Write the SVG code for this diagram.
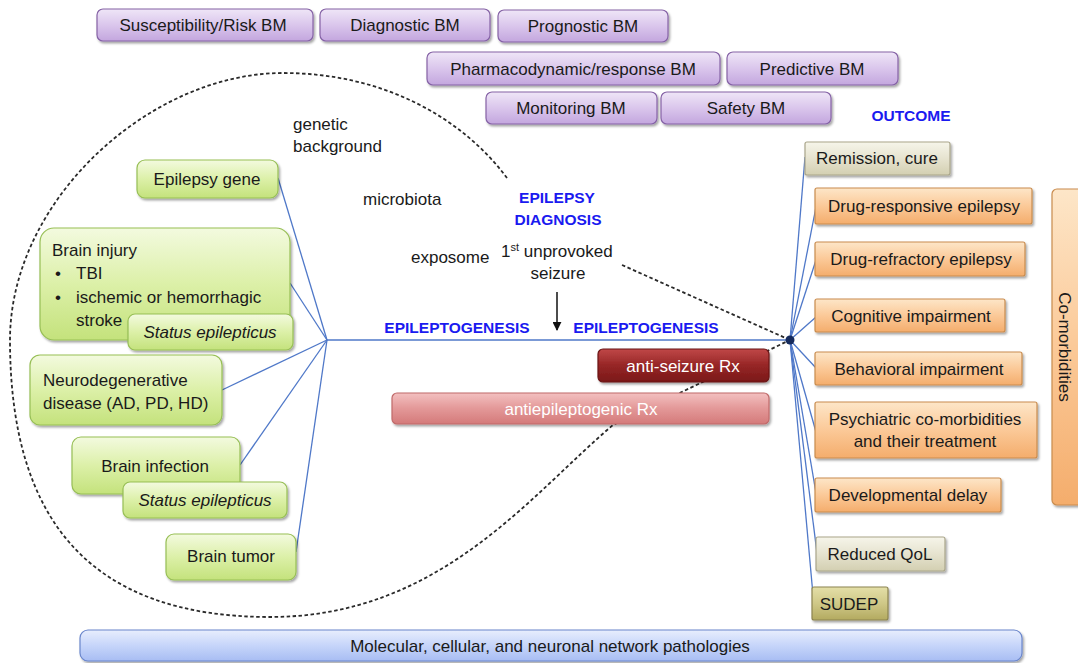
<svg xmlns="http://www.w3.org/2000/svg" width="1078" height="663" viewBox="0 0 1078 663">
<defs>
<linearGradient id="gPurple" x1="0" y1="0" x2="0" y2="1"><stop offset="0" stop-color="#efe6f7"/><stop offset="0.5" stop-color="#dac6ec"/><stop offset="1" stop-color="#c3a6de"/></linearGradient>
<linearGradient id="gGreen" x1="0" y1="0" x2="0" y2="1"><stop offset="0" stop-color="#f3fadf"/><stop offset="0.5" stop-color="#dcf0a8"/><stop offset="1" stop-color="#c4e27c"/></linearGradient>
<linearGradient id="gOrange" x1="0" y1="0" x2="0" y2="1"><stop offset="0" stop-color="#fde6c8"/><stop offset="0.5" stop-color="#fbc998"/><stop offset="1" stop-color="#f4ad6c"/></linearGradient>
<linearGradient id="gBeige" x1="0" y1="0" x2="0" y2="1"><stop offset="0" stop-color="#f6f5ea"/><stop offset="0.5" stop-color="#e6e3cf"/><stop offset="1" stop-color="#d3cfb1"/></linearGradient>
<linearGradient id="gKhaki" x1="0" y1="0" x2="0" y2="1"><stop offset="0" stop-color="#e4dfa8"/><stop offset="0.5" stop-color="#cfc887"/><stop offset="1" stop-color="#b3aa60"/></linearGradient>
<linearGradient id="gDarkRed" x1="0" y1="0" x2="0" y2="1"><stop offset="0" stop-color="#c04848"/><stop offset="0.5" stop-color="#962626"/><stop offset="1" stop-color="#7a1818"/></linearGradient>
<linearGradient id="gPink" x1="0" y1="0" x2="0" y2="1"><stop offset="0" stop-color="#f3c0c0"/><stop offset="0.5" stop-color="#e39898"/><stop offset="1" stop-color="#d47a7a"/></linearGradient>
<linearGradient id="gBlue" x1="0" y1="0" x2="0" y2="1"><stop offset="0" stop-color="#e8eefd"/><stop offset="0.5" stop-color="#c6d5fa"/><stop offset="1" stop-color="#a8bdf3"/></linearGradient>
<filter id="sh" x="-10%" y="-20%" width="125%" height="150%"><feDropShadow dx="1.5" dy="2" stdDeviation="1.3" flood-color="#000" flood-opacity="0.35"/></filter>
<marker id="arr" viewBox="0 0 10 10" refX="9" refY="5" markerWidth="6" markerHeight="6" orient="auto"><path d="M0,0 L10,5 L0,10 z" fill="#111"/></marker>
</defs>
<style>
text{font-family:"Liberation Sans",Arial,sans-serif;font-size:17px;fill:#1a1a1a}
.c{text-anchor:middle}
.i{font-style:italic}
.b{font-weight:bold;fill:#1a1af0;font-size:15.5px}
.w{fill:#ffffff}
.purple{fill:url(#gPurple);stroke:#8562a6;stroke-width:1.2;filter:url(#sh)}
.green{fill:url(#gGreen);stroke:#97bf55;stroke-width:1.2;filter:url(#sh)}
.orange{fill:url(#gOrange);stroke:#c98c4e;stroke-width:1.2;filter:url(#sh)}
.beige{fill:url(#gBeige);stroke:#a9a58a;stroke-width:1.2;filter:url(#sh)}
.khaki{fill:url(#gKhaki);stroke:#8c8450;stroke-width:1.2;filter:url(#sh)}
.dred{fill:url(#gDarkRed);stroke:#6a1414;stroke-width:1.2;filter:url(#sh)}
.pink{fill:url(#gPink);stroke:#c06a6a;stroke-width:1.2;filter:url(#sh)}
.blue{fill:url(#gBlue);stroke:#6a86cc;stroke-width:1.2;filter:url(#sh)}
.ln{stroke:#4f78c8;stroke-width:1.3;fill:none}
.dash{stroke:#2a2a2a;stroke-width:1.8;stroke-dasharray:3.5 2.5;fill:none}
</style>

<g id="connectors">
<path class="dash" d="M507,178 C460,115 380,73 283,73 C150,73 10,200 10,340 C10,520 90,617 270,617 C440,617 530,495 613,425 L790,340 M622,265 L790,340"/>
<g class="ln">
<line x1="327" y1="340" x2="790" y2="340"/>
<line x1="327" y1="340" x2="278" y2="178"/>
<line x1="327" y1="340" x2="290" y2="283"/>
<line x1="327" y1="340" x2="222" y2="390"/>
<line x1="327" y1="340" x2="240" y2="465"/>
<line x1="327" y1="340" x2="296" y2="552"/>
<line x1="790" y1="340" x2="805" y2="157"/>
<line x1="790" y1="340" x2="816" y2="207"/>
<line x1="790" y1="340" x2="816" y2="260"/>
<line x1="790" y1="340" x2="816" y2="317"/>
<line x1="790" y1="340" x2="816" y2="368"/>
<line x1="790" y1="340" x2="816" y2="432"/>
<line x1="790" y1="340" x2="816" y2="493"/>
<line x1="790" y1="340" x2="817" y2="553"/>
<line x1="790" y1="340" x2="813" y2="595"/>
</g>
<line x1="557" y1="292" x2="557" y2="330" stroke="#111" stroke-width="1.5" marker-end="url(#arr)"/>
<circle cx="790" cy="340" r="4.5" fill="#152a5c"/>
</g>

<g id="bm-susceptibility"><rect class="purple" x="97" y="9" width="216" height="32" rx="6"/><text class="c" x="203" y="31">Susceptibility/Risk BM</text></g>
<g id="bm-diagnostic"><rect class="purple" x="320" y="9" width="170" height="32" rx="6"/><text class="c" x="405" y="31">Diagnostic BM</text></g>
<g id="bm-prognostic"><rect class="purple" x="498" y="10" width="170" height="32" rx="6"/><text class="c" x="583" y="32">Prognostic BM</text></g>
<g id="bm-pharmacodynamic"><rect class="purple" x="427" y="52" width="293" height="33" rx="6"/><text class="c" x="573" y="75">Pharmacodynamic/response BM</text></g>
<g id="bm-predictive"><rect class="purple" x="727" y="52" width="171" height="33" rx="6"/><text class="c" x="812" y="75">Predictive BM</text></g>
<g id="bm-monitoring"><rect class="purple" x="486" y="92" width="171" height="32" rx="6"/><text class="c" x="571" y="114">Monitoring  BM</text></g>
<g id="bm-safety"><rect class="purple" x="661" y="92" width="170" height="32" rx="6"/><text class="c" x="746" y="114">Safety BM</text></g>

<g id="label-outcome"><text class="c b" x="911" y="121">OUTCOME</text></g>

<g id="epilepsy-gene"><rect class="green" x="137" y="160" width="141" height="38" rx="8"/><text class="c" x="207" y="185">Epilepsy gene</text></g>
<g id="brain-injury"><rect class="green" x="40" y="228" width="250" height="112" rx="14"/>
<text x="52" y="256">Brain injury</text>
<text x="55" y="279">•</text><text x="76" y="279">TBI</text>
<text x="55" y="303">•</text><text x="76" y="303">ischemic or  hemorrhagic</text>
<text x="76" y="326">stroke</text></g>
<g id="status-epilepticus-1"><rect class="green" x="128" y="314" width="165" height="36" rx="7"/><text class="c i" x="210" y="338">Status  epilepticus</text></g>
<g id="neurodegenerative"><rect class="green" x="30" y="355" width="192" height="70" rx="10"/><text x="43" y="386">Neurodegenerative</text><text x="43" y="409">disease (AD, PD, HD)</text></g>
<g id="brain-infection"><rect class="green" x="72" y="437" width="168" height="57" rx="9"/><text class="c" x="155" y="472">Brain infection</text></g>
<g id="status-epilepticus-2"><rect class="green" x="123" y="482" width="164" height="36" rx="7"/><text class="c i" x="205" y="506">Status  epilepticus</text></g>
<g id="brain-tumor"><rect class="green" x="166" y="534" width="130" height="46" rx="8"/><text class="c" x="231" y="562">Brain tumor</text></g>

<g id="factors">
<text x="293" y="130">genetic</text>
<text x="293" y="152">background</text>
<text x="363" y="205">microbiota</text>
<text x="411" y="263">exposome</text>
</g>
<g id="epilepsy-diagnosis"><text class="c b" x="557" y="203">EPILEPSY</text><text class="c b" x="558" y="225">DIAGNOSIS</text></g>
<g id="first-seizure"><text x="501" y="257">1<tspan dy="-6" font-size="11">st</tspan><tspan dy="6"> unprovoked</tspan></text><text class="c" x="558" y="279">seizure</text></g>
<g id="epileptogenesis-1"><text class="c b" x="457" y="333">EPILEPTOGENESIS</text></g>
<g id="epileptogenesis-2"><text class="c b" x="646" y="333">EPILEPTOGENESIS</text></g>

<g id="anti-seizure-rx"><rect class="dred" x="598" y="349" width="171" height="33" rx="5"/><text class="c w" x="683" y="372">anti-seizure Rx</text></g>
<g id="antiepileptogenic-rx"><rect class="pink" x="392" y="393" width="377" height="31" rx="5"/><text class="c w" x="581" y="415">antiepileptogenic Rx</text></g>

<g id="remission"><rect class="beige" x="805" y="142" width="145" height="33" rx="2"/><text class="c" x="877" y="164">Remission, cure</text></g>
<g id="drug-responsive"><rect class="orange" x="815" y="188" width="217" height="36" rx="2"/><text class="c" x="924" y="212">Drug-responsive epilepsy</text></g>
<g id="drug-refractory"><rect class="orange" x="815" y="242" width="210" height="34" rx="2"/><text class="c" x="921" y="265">Drug-refractory epilepsy</text></g>
<g id="cognitive"><rect class="orange" x="815" y="299" width="190" height="33" rx="2"/><text class="c" x="911" y="322">Cognitive impairment</text></g>
<g id="behavioral"><rect class="orange" x="815" y="352" width="207" height="33" rx="2"/><text class="c" x="919" y="375">Behavioral impairment</text></g>
<g id="psychiatric"><rect class="orange" x="815" y="402" width="222" height="56" rx="2"/><text class="c" x="925" y="425">Psychiatric co-morbidities</text><text class="c" x="925" y="447">and their treatment</text></g>
<g id="developmental"><rect class="orange" x="815" y="478" width="186" height="34" rx="2"/><text class="c" x="908" y="501">Developmental delay</text></g>
<g id="reduced-qol"><rect class="beige" x="816" y="537" width="129" height="34" rx="2"/><text class="c" x="880" y="560">Reduced QoL</text></g>
<g id="sudep"><rect class="khaki" x="812" y="587" width="76" height="33" rx="2"/><text class="c" x="849" y="610">SUDEP</text></g>
<g id="co-morbidities"><rect class="orange" x="1052" y="189" width="40" height="316" rx="5"/><text class="c" transform="translate(1059,347) rotate(90)">Co-morbidities</text></g>

<g id="molecular"><rect class="blue" x="80" y="630" width="942" height="31" rx="8"/><text class="c" x="550" y="652">Molecular, cellular, and neuronal network  pathologies</text></g>
</svg>
